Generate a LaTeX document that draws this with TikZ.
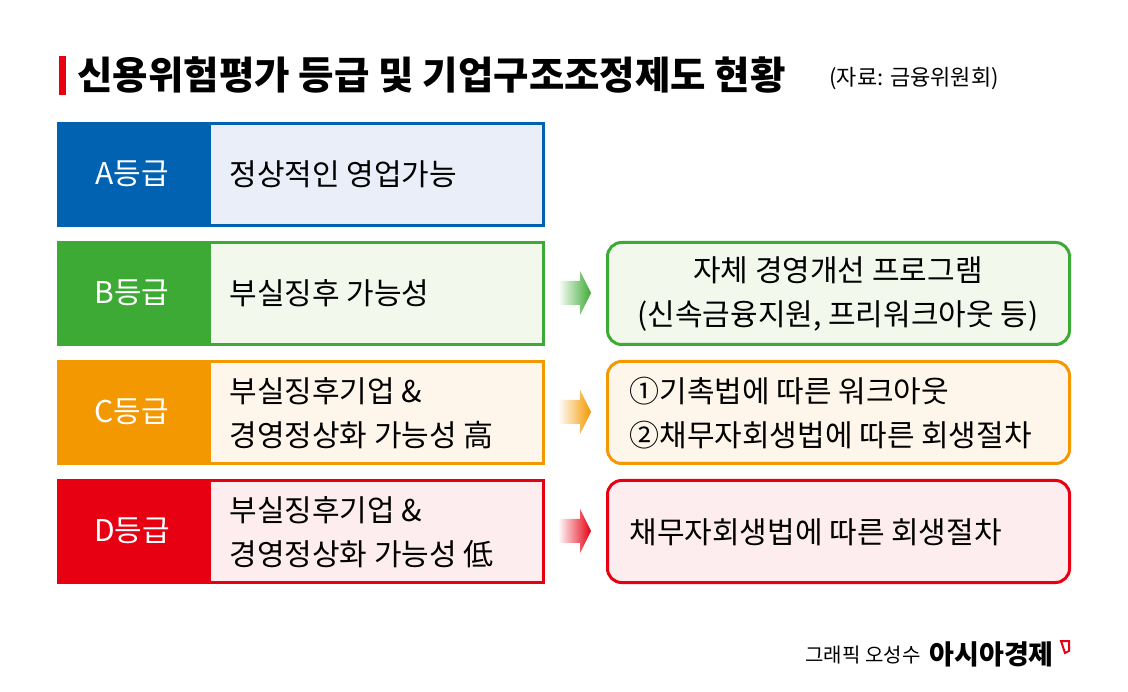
\documentclass[tikz,border=0pt]{standalone}
\usepackage{fontspec}
\setmainfont{Noto Sans CJK KR}
\begin{document}
\begin{tikzpicture}[x=1pt,y=-1pt,
 lab/.style={draw=none,font=\fontsize{30}{32}\selectfont,text=white,anchor=center},
 txt/.style={font=\fontsize{30}{44}\selectfont,align=left,anchor=west},
 rtxt/.style={font=\fontsize{30}{44}\selectfont,align=center}]
\useasboundingbox (0,0) rectangle (1128,692);
\fill[white] (0,0) rectangle (1128,692);
\definecolor{cA}{HTML}{0062B1}\definecolor{cB}{HTML}{3DAA35}
\definecolor{cC}{HTML}{F39800}\definecolor{cD}{HTML}{E60012}
\definecolor{fA}{HTML}{E9EEF8}\definecolor{fB}{HTML}{F3F8EC}
\definecolor{fC}{HTML}{FEF6EA}\definecolor{fD}{HTML}{FDEDEE}
\tikzset{rbox/.style={line width=3pt,rounded corners=14pt}}
\fill[cD] (59,56) rectangle (66,95);
\node[anchor=west,font=\fontsize{38.5}{40}\selectfont\bfseries] (title) at (74,75) {신용위험평가 등급 및 기업구조조정제도 현황};
\node[anchor=west,font=\fontsize{22}{24}\selectfont] (src) at (826,79) {(자료: 금융위원회)};
\foreach \n/\c/\f/\y/\l in {A/cA/fA/122/A등급,B/cB/fB/241/B등급,C/cC/fC/360/C등급,D/cD/fD/479/D등급}{
  \fill[\c] (57,\y) rectangle (208,\y+105);
  \draw[\c,line width=3pt,fill=\f] (209.5,\y+1.5) rectangle (543.5,\y+103.5);
  \node[lab] (L\n) at (132,\y+52) {\l};
}
\node[txt] (tA) at (226,174) {정상적인 영업가능};
\node[txt] (tB) at (226,293) {부실징후 가능성};
\node[txt] (tC) at (226,413) {부실징후기업 \&\\경영정상화 가능성 高};
\node[txt] (tD) at (226,532) {부실징후기업 \&\\경영정상화 가능성 低};
\foreach \n/\c/\f/\y in {B/cB/fB/241,C/cC/fC/360,D/cD/fD/479}{
  \draw[rbox,\c,fill=\f] (607.5,\y+1.5) rectangle (1069.5,\y+103.5);
  \shade[left color=white,right color=\c] (558,\y+40) -- (580,\y+40) -- (580,\y+30) -- (591,\y+52) -- (580,\y+74) -- (580,\y+64) -- (558,\y+64) -- cycle;
}
\node[rtxt] (rB) at (838,294) {자체 경영개선 프로그램\\(신속금융지원, 프리워크아웃 등)};
\node[rtxt,align=left,anchor=west] (rC) at (626,413) {①기촉법에 따른 워크아웃\\②채무자회생법에 따른 회생절차};
\node[rtxt,anchor=west] (rD) at (626,532) {채무자회생법에 따른 회생절차};
\node[anchor=east,font=\fontsize{20}{22}\selectfont] (cr) at (924,655) {그래픽 오성수};
\node[anchor=west,font=\fontsize{27}{28}\selectfont\bfseries] (logo) at (926,654) {아시아경제};
\draw[cD,line width=2pt] (1061,641) -- (1069,641) -- (1069,651) -- (1065,653) -- cycle;
\end{tikzpicture}
\end{document}
